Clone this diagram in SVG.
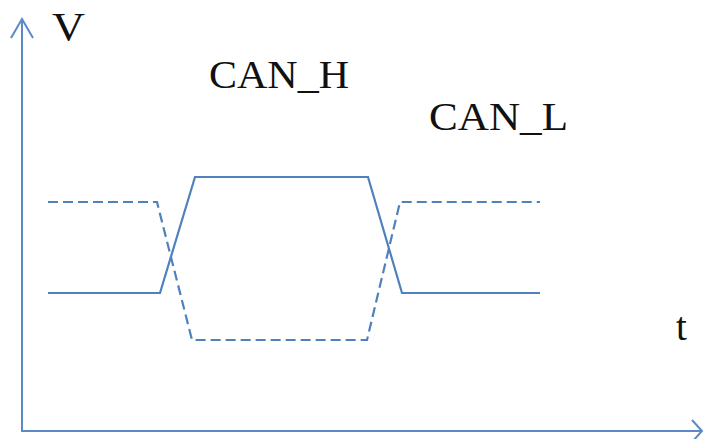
<svg xmlns="http://www.w3.org/2000/svg" width="707" height="439" viewBox="0 0 707 439">
  <style>
    .axis { fill: none; stroke: #5b8ac6; stroke-width: 2; }
    .sig { fill: none; stroke: #4f81bd; stroke-width: 2.2; stroke-linejoin: miter; }
    .dash { stroke-dasharray: 10 5; }
    .lbl { font-family: "Liberation Serif", "Times New Roman", serif; font-size: 39px; fill: #111; }
  </style>
  <rect width="707" height="439" fill="#ffffff"/>
  <!-- axes -->
  <g id="axes">
    <path class="axis" d="M22 432 V19 M11 38 L22 19 L33 38"/>
    <path class="axis" d="M22 431 H702 M692 420 L702 431 L692 442"/>
  </g>
  <!-- signal traces -->
  <g id="connectors">
    <path id="can-h" class="sig" d="M48 293 H160 L195 177 H368 L402 293 H540"/>
    <path id="can-l" class="sig dash" d="M48 202 H157 L192 340 H367 L400 202 H540"/>
  </g>
  <g id="labels">
    <text class="lbl" x="52" y="40" textLength="33" lengthAdjust="spacingAndGlyphs">V</text>
    <text class="lbl" x="209" y="88" textLength="140" lengthAdjust="spacingAndGlyphs">CAN_H</text>
    <text class="lbl" x="429" y="130" textLength="139" lengthAdjust="spacingAndGlyphs">CAN_L</text>
    <text class="lbl" x="676" y="340">t</text>
  </g>
</svg>
